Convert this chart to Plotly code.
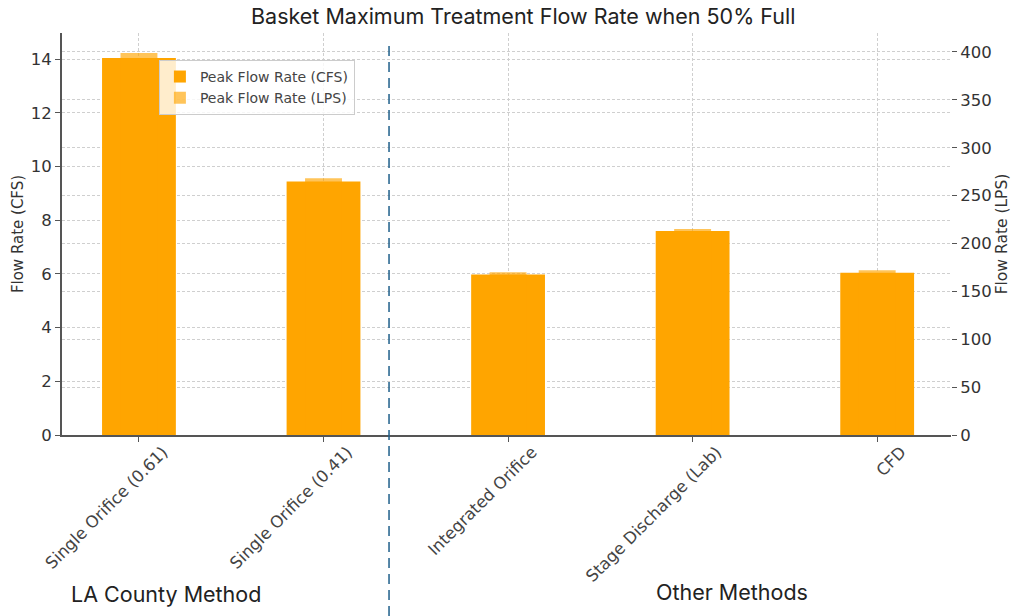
import plotly.graph_objects as go

categories = ["Single Orifice (0.61)", "Single Orifice (0.41)", "Integrated Orifice",
              "Stage Discharge (Lab)", "CFD"]
cfs_values = [14.05, 9.45, 5.98, 7.60, 6.05]
lps_values = [399, 268, 170, 215, 172]
group_labels = ["LA County Method", "Other Methods"]
divider_position = 1.355

fig = go.Figure()
fig.add_trace(go.Bar(
    x=categories, y=cfs_values, name="Peak Flow Rate (CFS)",
    marker=dict(color="#FFA500", line=dict(width=0)), width=0.4, yaxis="y",
))
fig.add_trace(go.Bar(
    x=categories, y=lps_values, name="Peak Flow Rate (LPS)",
    marker=dict(color="rgba(255,165,0,0.65)", line=dict(width=0)), width=0.2, yaxis="y2",
))

grid = dict(showgrid=True, gridcolor="#cfcfcf", gridwidth=1, griddash="3px,2px")

fig.update_layout(
    width=1014, height=616,
    margin=dict(l=62, r=63, t=33, b=181, autoexpand=False),
    paper_bgcolor="white", plot_bgcolor="white",
    barmode="overlay",
    font=dict(family="DejaVu Sans", size=15, color="#333"),
    title=dict(text="Basket Maximum Treatment Flow Rate when 50% Full",
               x=0.516, xanchor="center", y=0.974, yanchor="middle", yref="container",
               font=dict(family="Inter", size=21.5, color="#222")),
    xaxis=dict(range=[-0.417, 4.40], tickangle=-45, ticks="outside", ticklen=5,
               tickcolor="#555", showline=True, linecolor="#555", linewidth=2,
               tickfont=dict(size=16.5, color="#444"), automargin=False,
               ticklabelshift=24, ticklabelstandoff=-6, **grid),
    yaxis=dict(range=[0, 14.98], dtick=2, ticks="outside", ticklen=5, tickcolor="#555",
               showline=True, linecolor="#555", linewidth=2, zeroline=False,
               title=dict(text="Flow Rate (CFS)", font=dict(size=15), standoff=3),
               tickfont=dict(size=16.5), automargin=False, **grid),
    yaxis2=dict(range=[0, 419.8], dtick=50, overlaying="y", side="right",
                ticks="outside", ticklen=5, tickcolor="#555", showline=False,
                zeroline=False,
                title=dict(text="Flow Rate (LPS)", font=dict(size=15.5), standoff=5),
                tickfont=dict(size=16.5), automargin=False, **grid),
    legend=dict(x=0.109, y=0.933, xanchor="left", yanchor="top",
                bgcolor="rgba(255,255,255,0.8)", bordercolor="#ccc", borderwidth=1,
                font=dict(size=14, color="#444"), tracegroupgap=0),
    showlegend=True,
)

fig.add_shape(type="line", xref="x", yref="paper", x0=divider_position, x1=divider_position,
              y0=-0.45, y1=0.978, line=dict(color="#1f5f8b", width=1.5, dash="10px,6px"),
              layer="above")

fig.add_annotation(text=group_labels[0], xref="paper", yref="paper", x=0.117, y=-0.3955,
                   showarrow=False, font=dict(family="Inter", size=21.5, color="#222"),
                   xanchor="center", yanchor="middle")
fig.add_annotation(text=group_labels[1], xref="paper", yref="paper", x=0.7537, y=-0.3905,
                   showarrow=False, font=dict(family="Inter", size=21.5, color="#222"),
                   xanchor="center", yanchor="middle")

fig.write_html("out.html", post_script="document.body.style.margin='0';",
               config={"displayModeBar": False})
